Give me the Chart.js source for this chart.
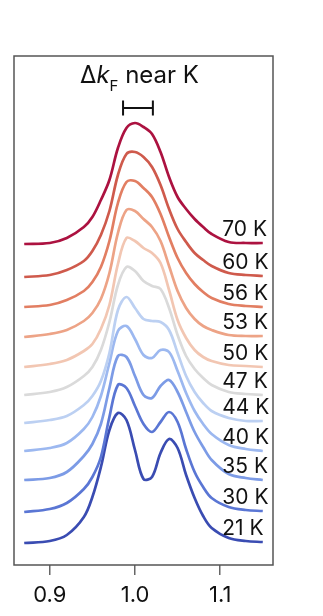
<!DOCTYPE html>
<html>
<head>
<meta charset="utf-8">
<script src="https://cdn.jsdelivr.net/npm/chart.js@4.4.1/dist/chart.umd.min.js"></script>
<style>
  html, body { margin: 0; padding: 0; background: #fff; }
  #wrap { width: 323px; height: 616px; position: relative; }
</style>
</head>
<body>
<div id="wrap"><canvas id="mdcChart"></canvas></div>
<script>
// momentum grid (k / k_K) shared by all curves
const kGrid = [0.87, 0.90, 0.92, 0.94, 0.95, 0.96, 0.97, 0.98, 0.99, 1.00, 1.01,
               1.02, 1.03, 1.04, 1.05, 1.06, 1.07, 1.08, 1.09, 1.11, 1.13, 1.15];

const temperatures = ['70 K', '60 K', '56 K', '53 K', '50 K', '47 K', '44 K', '40 K', '35 K', '30 K', '21 K'];
const lineColors = ['#ac1240', '#cf5a4c', '#e27e62', '#eda386', '#f2c6b2', '#dadada',
                    '#bcd0f2', '#9cb8f0', '#7c9be6', '#5a76d4', '#3a4cb2'];

// offset intensity curves (arb. units)
const mdc70 = [321, 322, 327, 338, 348, 365, 385, 417, 437, 442, 438, 431, 413, 388, 368, 356, 346, 338, 331, 323, 322, 322];
const mdc60 = [288, 290, 295, 304, 314, 330, 354, 390, 411, 413, 408, 398, 380, 356, 336, 323, 312, 305, 299, 292, 290, 289];
const mdc56 = [258, 260, 265, 274, 283, 298, 324, 362, 383, 384, 377, 368, 351, 328, 307, 292, 281, 273, 267, 261, 259, 258];
const mdc53 = [228, 231, 235, 244, 252, 266, 292, 332, 355, 354, 346, 338, 324, 299, 274, 257, 246, 239, 235, 230, 229, 229];
const mdc50 = [198, 201, 205, 214, 221, 236, 260, 301, 327, 324, 317, 312, 302, 275, 245, 227, 215, 208, 204, 200, 199, 198];
const mdc47 = [170, 173, 178, 189, 198, 215, 243, 280, 298, 294, 284, 279, 276, 257, 230, 209, 196, 187, 180, 173, 171, 170];
const mdc44 = [142, 145, 149, 160, 169, 184, 212, 255, 268, 257, 246, 244, 243, 235, 212, 189, 173, 162, 154, 147, 144, 144];
const mdc40 = [114, 117, 122, 136, 148, 169, 202, 234, 239, 226, 210, 207, 215, 213, 194, 172, 154, 141, 131, 120, 116, 114];
const mdc35 = [85, 87, 93, 109, 121, 141, 177, 209, 208, 189, 170, 167, 179, 185, 173, 153, 133, 118, 105, 91, 87, 85];
const mdc30 = [53, 56, 62, 76, 88, 108, 148, 180, 177, 159, 141, 133, 143, 153, 143, 116, 93, 78, 67, 58, 55, 54];
const mdc21 = [22, 24, 30, 48, 68, 98, 135, 152, 145, 115, 86, 88, 112, 126, 117, 90, 67, 49, 37, 27, 24, 23];

const curves = [mdc70, mdc60, mdc56, mdc53, mdc50, mdc47, mdc44, mdc40, mdc35, mdc30, mdc21];

const xTicks = [0.9, 1.0, 1.1];
const gapBar = [0.986, 1.021];   // Δk_F marker span
const gapBarLevel = 457;
const titleLevel = 482;

const FONT = 'Inter, "Noto Sans", sans-serif';

const decorPlugin = {
    id: 'decor',
    afterDatasetsDraw(chart) {
        const ctx = chart.ctx;
        const xs = chart.scales.x;
        const ys = chart.scales.y;
        const area = chart.chartArea;

        ctx.save();
        // frame
        ctx.strokeStyle = '#555';
        ctx.lineWidth = 1.5;
        ctx.strokeRect(area.left, area.top, area.right - area.left, area.bottom - area.top);

        // temperature labels just above each curve's right end
        ctx.fillStyle = '#111';
        ctx.font = '21px ' + FONT;
        ctx.textAlign = 'left';
        ctx.textBaseline = 'alphabetic';
        chart.data.datasets.forEach((ds, i) => {
            const pts = chart.getDatasetMeta(i).data;
            const last = pts[pts.length - 1];
            ctx.fillText(temperatures[i], xs.getPixelForValue(1.1025), last.y - 7);
        });

        // title: Δk_F near K
        const ty = ys.getPixelForValue(titleLevel);
        const parts = [
            { t: 'Δ', f: '24px ' + FONT, dy: 0 },
            { t: 'k', f: 'italic 24px ' + FONT, dy: 0 },
            { t: 'F', f: '15px ' + FONT, dy: 8 },
            { t: ' near K', f: '24px ' + FONT, dy: 0 }
        ];
        let total = 0;
        parts.forEach(p => { ctx.font = p.f; p.w = ctx.measureText(p.t).width; total += p.w; });
        let tx = xs.getPixelForValue(1.0053) - total / 2;
        parts.forEach(p => {
            ctx.font = p.f;
            ctx.fillText(p.t, tx, ty + p.dy);
            tx += p.w;
        });

        // Δk_F bar
        const bx0 = xs.getPixelForValue(gapBar[0]);
        const bx1 = xs.getPixelForValue(gapBar[1]);
        const by = ys.getPixelForValue(gapBarLevel);
        ctx.strokeStyle = '#111';
        ctx.lineWidth = 2;
        ctx.beginPath();
        ctx.moveTo(bx0, by); ctx.lineTo(bx1, by);
        ctx.moveTo(bx0, by - 7.5); ctx.lineTo(bx0, by + 7.5);
        ctx.moveTo(bx1, by - 7.5); ctx.lineTo(bx1, by + 7.5);
        ctx.stroke();
        ctx.restore();
    }
};

const ctx = document.getElementById('mdcChart').getContext('2d');
const chart = new Chart(ctx, {
    type: 'line',
    data: {
        datasets: curves.map((c, i) => ({
            label: temperatures[i],
            data: kGrid.map((k, j) => ({ x: k, y: c[j] })),
            borderColor: lineColors[i],
            borderWidth: 2.7,
            pointRadius: 0,
            tension: 0.35,
            fill: false
        }))
    },
    options: {
        responsive: true,
        maintainAspectRatio: false,
        animation: false,
        layout: { padding: { left: 14, right: 50, top: 56, bottom: 0 } },
        plugins: {
            legend: { display: false },
            tooltip: { enabled: false }
        },
        scales: {
            x: {
                type: 'linear',
                min: 0.858,
                max: 1.162,
                afterBuildTicks: axis => { axis.ticks = xTicks.map(v => ({ value: v })); },
                afterFit: axis => { axis.height = 51; },
                border: { display: false },
                grid: {
                    drawOnChartArea: false,
                    drawTicks: true,
                    tickLength: 10,
                    color: '#666',
                    lineWidth: 1.5
                },
                ticks: {
                    color: '#111',
                    padding: 7,
                    font: { family: FONT, size: 22 },
                    callback: v => v.toFixed(1)
                }
            },
            y: {
                display: false,
                min: 0,
                max: 509
            }
        }
    },
    plugins: [decorPlugin]
});
</script>
</body>
</html>
